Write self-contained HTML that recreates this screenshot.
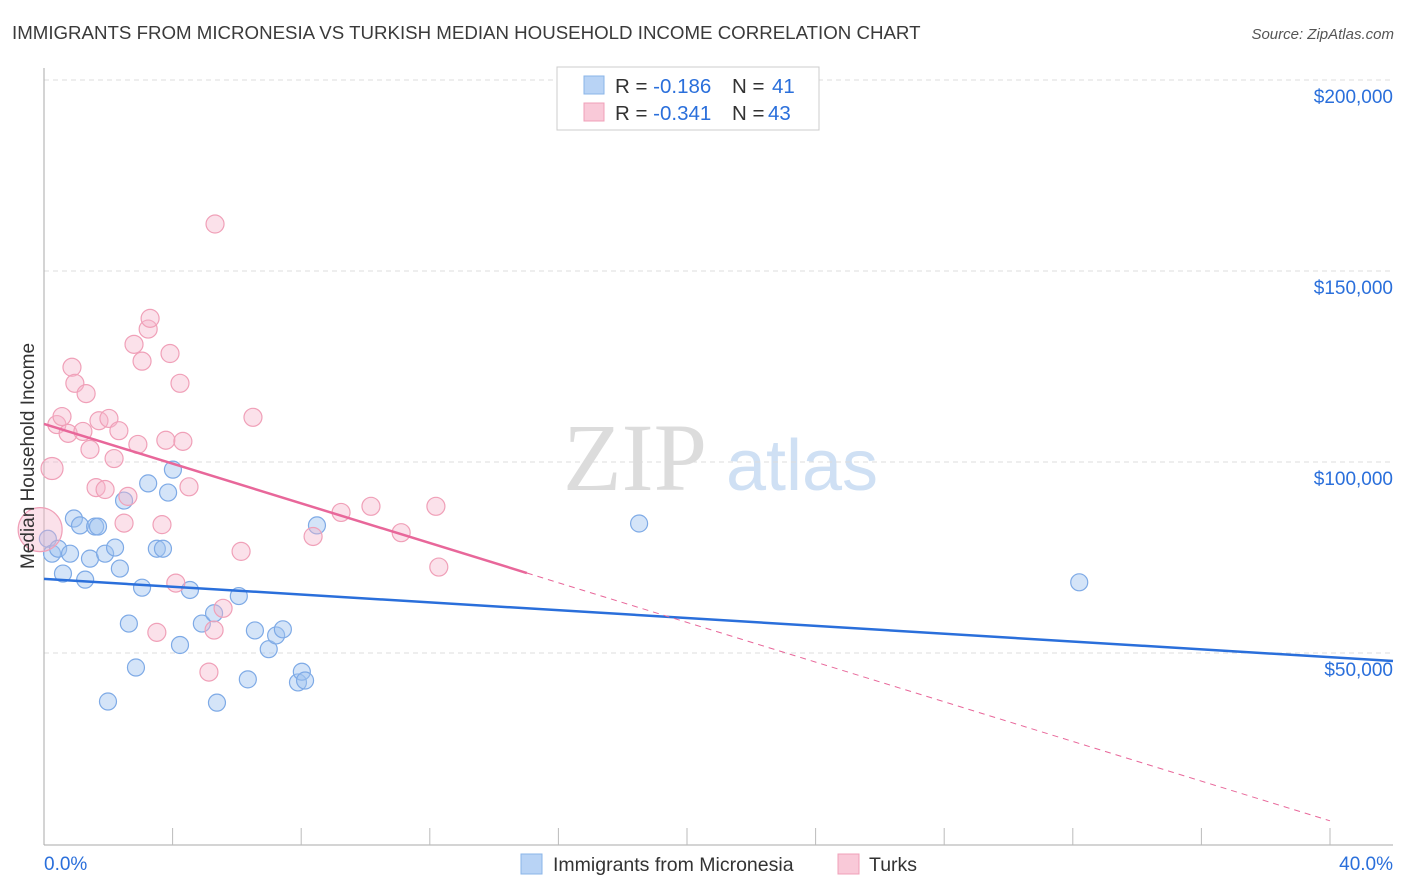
<!DOCTYPE html>
<html><head><meta charset="utf-8"><style>
body{margin:0;background:#fff;font-family:"Liberation Sans",sans-serif;}
svg{display:block}
</style></head><body>
<svg id="chart" width="1406" height="892" xmlns="http://www.w3.org/2000/svg">
<text x="12" y="39" font-size="18.7" fill="#3a3a3a">IMMIGRANTS FROM MICRONESIA VS TURKISH MEDIAN HOUSEHOLD INCOME CORRELATION CHART</text>
<text x="1394" y="39" font-size="15" fill="#555" text-anchor="end" font-style="italic">Source: ZipAtlas.com</text>
<g>
<text x="635" y="490" font-size="96" fill="#dcdcdc" text-anchor="middle" font-family="Liberation Serif,serif">ZIP</text>
<text x="802" y="490" font-size="72" fill="#cfe0f4" text-anchor="middle">atlas</text>
</g>
<g id="grid"></g>
<g id="axes"></g>
<g id="pts"></g>
<g id="lines"></g>
<g>
<rect x="557" y="67" width="262" height="63" fill="#fff" stroke="#ccc"/>
<rect x="584" y="76" width="20" height="18" fill="#b8d3f5" stroke="#8ab4e8"/>
<rect x="584" y="103" width="20" height="18" fill="#f9c9d8" stroke="#f0a0b8"/>
<text x="615" y="93" font-size="20.5" fill="#333">R = <tspan fill="#2a6fdb">-0.186</tspan><tspan x="732">N = </tspan><tspan fill="#2a6fdb" x="772">41</tspan></text>
<text x="615" y="120" font-size="20.5" fill="#333">R = <tspan fill="#2a6fdb">-0.341</tspan><tspan x="732">N = </tspan><tspan fill="#2a6fdb" x="768">43</tspan></text>
</g>
<g>
<rect x="521" y="854" width="21" height="20" fill="#b8d3f5" stroke="#8ab4e8"/>
<text x="553" y="871" font-size="19.5" fill="#333">Immigrants from Micronesia</text>
<rect x="838" y="854" width="21" height="20" fill="#f9c9d8" stroke="#f0a0b8"/>
<text x="869" y="871" font-size="19.5" fill="#333">Turks</text>
</g>
<text transform="translate(34,456) rotate(-90)" font-size="19" fill="#333" text-anchor="middle">Median Household Income</text>
</svg>
<script>
const yTicks=[50000,100000,150000,200000];
const yTickLabels=["$50,000","$100,000","$150,000","$200,000"];
const xTickLabels=["0.0%","40.0%"];
const blueX=[0.12,0.25,0.44,0.59,0.81,0.93,1.12,1.28,1.43,1.59,1.68,1.9,1.99,2.21,2.36,2.49,2.64,2.86,3.05,3.24,3.51,3.7,3.86,4.01,4.23,4.54,4.91,5.29,5.38,6.06,6.34,6.56,6.99,7.22,7.43,7.9,8.02,8.12,8.49,18.51,32.2];
const blueY=[79900,76000,77300,70800,76000,85200,83400,69200,74700,83100,83100,76000,37300,77600,72100,89900,57700,46200,67100,94400,77300,77300,92000,98000,52100,66500,57700,60400,37000,64900,43100,55900,51000,54600,56200,42300,45100,42800,83400,83900,68500];
const pinkX=[-0.12,0.25,0.4,0.56,0.75,0.87,0.96,1.21,1.31,1.43,1.62,1.71,1.9,2.02,2.18,2.33,2.49,2.61,2.8,2.92,3.05,3.24,3.3,3.51,3.67,3.79,3.92,4.1,4.23,4.32,4.51,5.29,5.13,5.32,5.57,6.13,6.5,8.37,9.24,10.17,11.11,12.19,12.28];
const pinkY=[82300,98300,109800,111900,107500,124800,120600,108000,117900,103300,93300,110800,92800,111400,100900,108200,84000,91000,130800,104600,126400,134800,137600,55400,83600,105700,128400,68300,120600,105400,93500,56000,45000,162300,61700,76600,111700,80500,86800,88400,81500,88400,72500];
const pinkR=[22,11,9,9,9,9,9,9,9,9,9,9,9,9,9,9,9,9,9,9,9,9,9,9,9,9,9,9,9,9,9,9,9,9,9,9,9,9,9,9,9,9,9];
const blueLine=[69400,47900];
const pinkLine=[109950,70940,6070];
const NS="http://www.w3.org/2000/svg";
const X=p=>44+p*32.15;
const Y=v=>653-(v-50000)*191/50000;
function mk(tag,at,parent){const e=document.createElementNS(NS,tag);for(const k in at)e.setAttribute(k,at[k]);document.getElementById(parent).appendChild(e);return e;}
yTicks.forEach((t,i)=>{
 const l=mk('line',{x1:44,x2:1393,y1:Y(t),y2:Y(t),stroke:'#ddd','stroke-dasharray':'5,4'},'grid');
 
 
 const tx=mk('text',{x:1393,y:Y(t)+23,'font-size':19,fill:'#2a6fdb','text-anchor':'end'},'axes');
 tx.textContent=yTickLabels[i];
 
 
});
const ax=mk('line',{x1:44,x2:44,y1:68,y2:845,stroke:'#aaa'},'axes');


const bx=mk('line',{x1:44,x2:1393,y1:845,y2:845,stroke:'#aaa'},'axes');


for(let i=1;i<=10;i++){const t=mk('line',{x1:X(i*4),x2:X(i*4),y1:828,y2:845,stroke:'#bbb'},'axes');
 
 }
[[X(0)+0,'start',xTickLabels[0]],[1393,'end',xTickLabels[1]]].forEach(a=>{
 const t=mk('text',{x:a[0],y:870,'font-size':19,fill:'#2a6fdb','text-anchor':a[1]},'axes');t.textContent=a[2];
 
 });
blueX.forEach((x,i)=>{const c=mk('circle',{cx:X(x),cy:Y(blueY[i]),r:8.5,fill:'rgba(160,196,240,0.45)',stroke:'#7eaae6','stroke-width':1.2},'pts');
 
 });
pinkX.forEach((x,i)=>{const c=mk('circle',{cx:X(x),cy:Y(pinkY[i]),r:pinkR[i],fill:'rgba(246,180,202,0.4)',stroke:'#f0a0b8','stroke-width':1.2},'pts');
 
 });
const bl=mk('line',{x1:X(0),y1:Y(blueLine[0]),x2:X(41.96),y2:Y(blueLine[1]),stroke:'#2a6fdb','stroke-width':2.5},'lines');


const pl=mk('line',{x1:X(0),y1:Y(pinkLine[0]),x2:X(15.02),y2:Y(pinkLine[1]),stroke:'#e8679a','stroke-width':2.5},'lines');


const pd=mk('line',{x1:X(15.02),y1:Y(pinkLine[1]),x2:X(40),y2:Y(pinkLine[2]),stroke:'#e8679a','stroke-width':1,'stroke-dasharray':'6,5'},'lines');


</script>
</body></html>
